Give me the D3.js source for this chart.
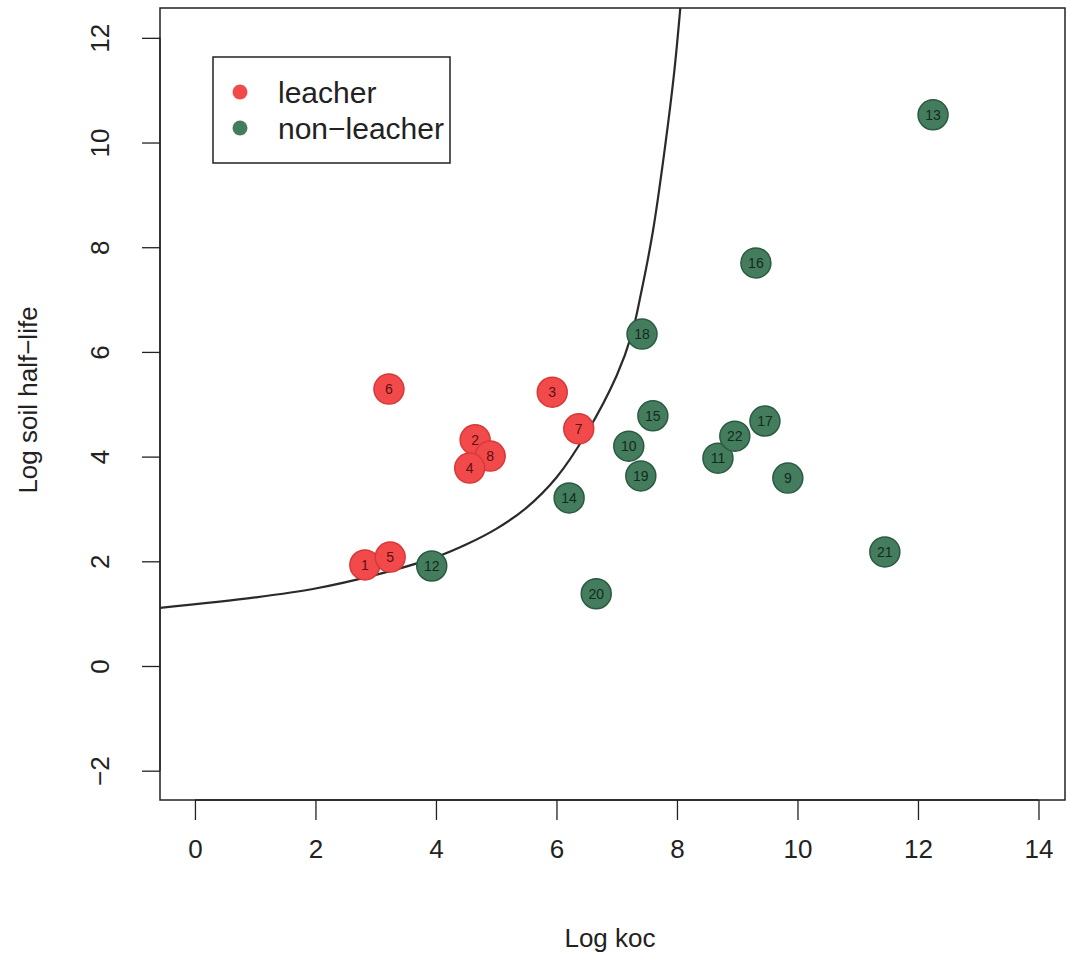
<!DOCTYPE html>
<html>
<head>
<meta charset="utf-8">
<script src="https://cdn.jsdelivr.net/npm/d3@7"></script>
<style>
  html, body { margin: 0; padding: 0; background: #fff; }
  svg { display: block; }
  text { font-family: "Liberation Sans", Arial, Helvetica, sans-serif; }
</style>
</head>
<body>
<svg id="chart" width="1070" height="959"></svg>
<script>
// ---- data ----
const labels  = ["1","5","6","2","8","4","3","7","12","14","20","10","19","15","18","16","11","22","17","9","21","13"];
const logKoc  = [2.82,3.24,3.22,4.65,4.90,4.56,5.93,6.37,3.93,6.21,6.66,7.20,7.40,7.60,7.42,9.31,8.68,8.96,9.46,9.84,11.45,12.25];
const logHalf = [1.93,2.08,5.29,4.32,4.01,3.78,5.23,4.53,1.91,3.21,1.38,4.20,3.63,4.78,6.34,7.70,3.97,4.39,4.68,3.59,2.18,10.53];
const group   = ["leacher","leacher","leacher","leacher","leacher","leacher","leacher","leacher",
                 "non-leacher","non-leacher","non-leacher","non-leacher","non-leacher","non-leacher","non-leacher",
                 "non-leacher","non-leacher","non-leacher","non-leacher","non-leacher","non-leacher","non-leacher"];
const curveX  = [-0.58, 1, 2, 3, 4, 4.5, 5, 5.5, 6, 6.5, 7, 7.25, 7.4, 7.6, 7.8, 7.95, 8.05, 8.12];
const curveY  = [1.11, 1.31, 1.48, 1.74, 2.08, 2.32, 2.62, 3.02, 3.6, 4.45, 5.55, 6.34, 7.1, 8.3, 9.9, 11.3, 12.5, 13.5];
const xTicks  = [0, 2, 4, 6, 8, 10, 12, 14];
const yTicks  = [-2, 0, 2, 4, 6, 8, 10, 12];
const legendLabels = ["leacher", "non-leacher"];

const colors = { "leacher": "#f24a4a", "non-leacher": "#437d5e" };
const strokes = { "leacher": "#d83838", "non-leacher": "#2b5a41" };

// ---- layout ----
const svg = d3.select("#chart");
const L = 160, R = 1065, T = 8, B = 800;
const x = d3.scaleLinear().domain([-0.58, 14.44]).range([L, R]);
const y = d3.scaleLinear().domain([-2.56, 12.57]).range([B, T]);

// clip
svg.append("defs").append("clipPath").attr("id", "clip")
  .append("rect").attr("x", L).attr("y", T).attr("width", R - L).attr("height", B - T);

// axes
const xAxis = svg.append("g").attr("transform", `translate(0,${B})`)
  .call(d3.axisBottom(x).tickValues(xTicks).tickSize(20).tickPadding(20).tickFormat(d3.format("d")));
xAxis.select(".domain").attr("d", `M${x(0)},0H${x(14)}`);
xAxis.selectAll("text").attr("font-size", 26).attr("fill", "#222");
xAxis.selectAll("line,path").attr("stroke", "#222").attr("stroke-width", 1.3);

const yAxis = svg.append("g").attr("transform", `translate(${L},0)`)
  .call(d3.axisLeft(y).tickValues(yTicks).tickSize(18).tickPadding(0).tickFormat(d => d < 0 ? "\u2212" + Math.abs(d) : d));
yAxis.select(".domain").attr("d", `M0,${y(-2)}V${y(12)}`);
yAxis.selectAll("line,path").attr("stroke", "#222").attr("stroke-width", 1.3);
yAxis.selectAll(".tick text")
  .attr("font-size", 26).attr("fill", "#222")
  .attr("text-anchor", "middle")
  .attr("x", 0).attr("y", 0).attr("dy", null)
  .attr("transform", "translate(-60,0) rotate(-90) translate(0,9)");

// box
svg.append("rect").attr("x", L).attr("y", T).attr("width", R - L).attr("height", B - T)
  .attr("fill", "none").attr("stroke", "#222").attr("stroke-width", 1.5);

// axis titles
svg.append("text").attr("x", 610).attr("y", 947).attr("text-anchor", "middle")
  .attr("font-size", 26).attr("fill", "#222").text("Log koc");
svg.append("text").attr("transform", "translate(37,400) rotate(-90)").attr("text-anchor", "middle")
  .attr("font-size", 26).attr("fill", "#222").text("Log soil half\u2212life");

// curve
const curvePts = curveX.map((d, i) => [d, curveY[i]]);
svg.append("path").attr("clip-path", "url(#clip)")
  .attr("d", d3.line().x(d => x(d[0])).y(d => y(d[1])).curve(d3.curveCatmullRom.alpha(0.5))(curvePts))
  .attr("fill", "none").attr("stroke", "#2a2a2a").attr("stroke-width", 2.2);

// points
const pts = labels.map((l, i) => ({ l, x: logKoc[i], y: logHalf[i], g: group[i] }));
const pg = svg.append("g");
pts.forEach(p => {
  pg.append("circle").attr("cx", x(p.x)).attr("cy", y(p.y)).attr("r", 15)
    .attr("fill", colors[p.g]).attr("stroke", strokes[p.g]).attr("stroke-width", 1.5);
});
pts.forEach(p => {
  pg.append("text").attr("x", x(p.x)).attr("y", y(p.y) + 5).attr("text-anchor", "middle")
    .attr("font-size", 14).attr("fill", p.g === "leacher" ? "#5a1010" : "#142a1c").text(p.l);
});

// legend
const lg = svg.append("g");
lg.append("rect").attr("x", 213).attr("y", 57).attr("width", 237).attr("height", 106)
  .attr("fill", "#fff").attr("stroke", "#222").attr("stroke-width", 1.5);
legendLabels.forEach((name, i) => {
  lg.append("circle").attr("cx", 240).attr("cy", 92 + i * 36).attr("r", 7.5).attr("fill", colors[name]);
  lg.append("text").attr("x", 278).attr("y", 103 + i * 36).attr("font-size", 30)
    .attr("fill", "#222").text(name.replace("-", "\u2212"));
});
</script>
</body>
</html>
